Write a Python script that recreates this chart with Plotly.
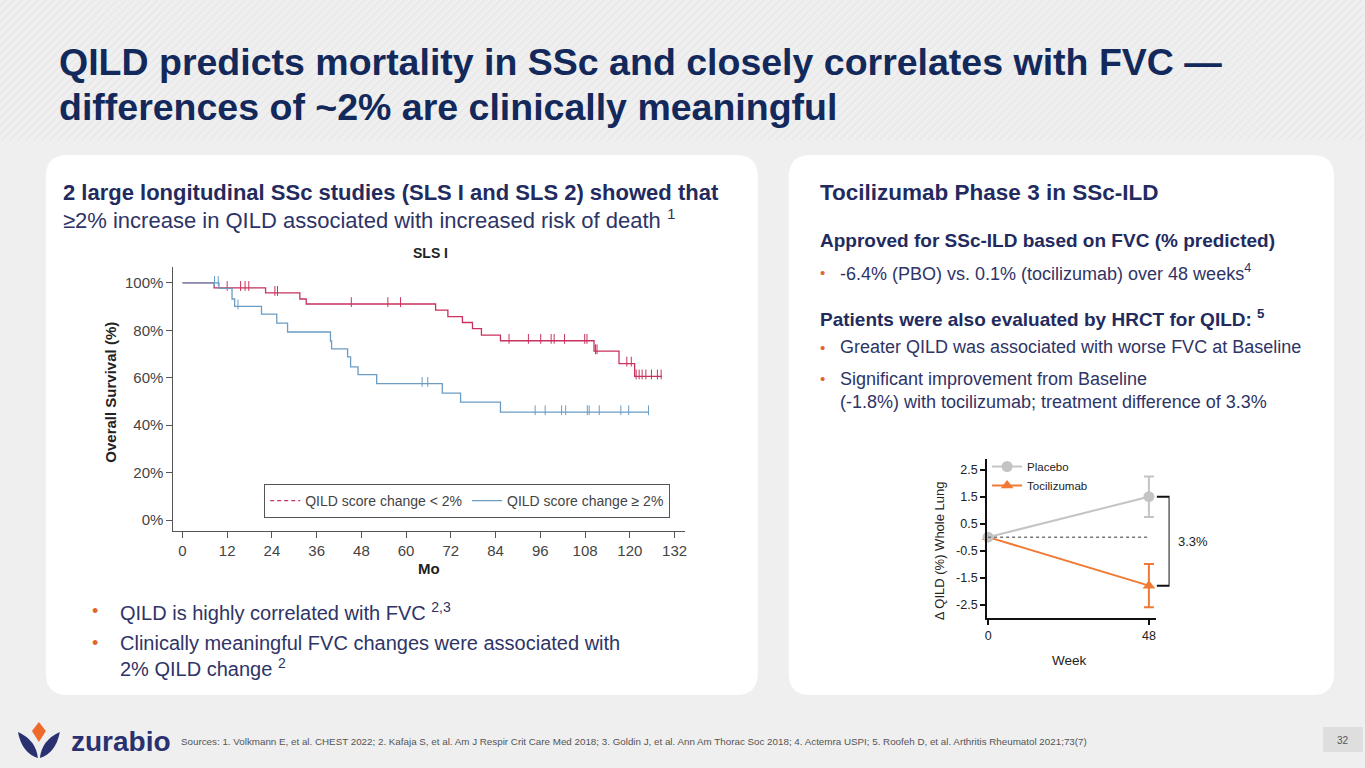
import plotly.graph_objects as go

W, H = 1365, 768
FONT = "Liberation Sans, Arial, sans-serif"
NAVY = "#14295b"
TEXT = "#2e3466"
ORANGE = "#e0662f"

# ---- SLS I Kaplan-Meier ----
red_name = "QILD score change < 2%"
red_times = [8.5, 22.3, 31.5, 33.2, 67.9, 71.2, 75.1, 77.8, 80.2, 85.3, 110.4, 117.1, 121.3]
red_surv = [97.9, 95.8, 93.2, 91.1, 88.5, 85.8, 83.3, 80.7, 78.0, 75.6, 71.2, 66.0, 60.6]
red_end = 128.6
red_cens = [12.0, 15.6, 16.8, 17.8, 24.8, 25.5, 45.3, 55.1, 58.5, 87.6, 92.8, 96.1,
            98.9, 99.7, 102.5, 107.9, 108.5, 110.8, 111.2, 119.2, 120.4, 121.7,
            122.5, 123.3, 124.3, 125.8, 127.4, 128.4]

blue_name = "QILD score change \u2265 2%"
blue_times = [9.8, 13.3, 14.0, 21.2, 25.3, 28.2, 39.7, 40.0, 44.3, 45.1, 47.1, 52.1, 69.7, 74.6, 85.3]
blue_surv = [97.7, 93.2, 90.1, 86.8, 83.0, 79.3, 75.5, 72.2, 68.8, 64.6, 61.3, 57.5, 53.5, 49.7, 45.5]
blue_end = 125.0
blue_cens = [8.6, 9.6, 14.9, 64.3, 65.8, 94.6, 97.3, 101.7, 102.8, 108.6, 109.1,
             111.8, 117.6, 119.7, 125.0]

month_ticks = list(range(0, 133, 12))
surv_ticks = [0, 20, 40, 60, 80, 100]
surv_labels = [f"{v}%" for v in surv_ticks]

# ---- Tocilizumab QILD ----
weeks = [0, 48]
placebo = [0, 1.5]
placebo_err = [0, 0.75]
toci = [0, -1.8]
toci_err = [0, 0.8]
qild_ticks = [-2.5, -1.5, -0.5, 0.5, 1.5, 2.5]
qild_labels = ["-2.5", "-1.5", "-0.5", "0.5", "1.5", "2.5"]
diff_label = "3.3%"

sources = ("Sources: 1. Volkmann E, et al. CHEST 2022; 2. Kafaja S, et al. Am J Respir Crit Care Med 2018; "
           "3. Goldin J, et al. Ann Am Thorac Soc 2018; 4. Actemra USPI; 5. Roofeh D, et al. "
           "Arthritis Rheumatol 2021;73(7)")


def X(px):
    return px / W


def Y(py):
    return 1 - py / H


def step_at(times, surv, t):
    s = 100
    for ti, si in zip(times, surv):
        if ti <= t:
            s = si
    return s


def rounded(x0, y0, x1, y1, r):
    return (f"M {X(x0 + r)},{Y(y0)} L {X(x1 - r)},{Y(y0)} Q {X(x1)},{Y(y0)} {X(x1)},{Y(y0 + r)} "
            f"L {X(x1)},{Y(y1 - r)} Q {X(x1)},{Y(y1)} {X(x1 - r)},{Y(y1)} "
            f"L {X(x0 + r)},{Y(y1)} Q {X(x0)},{Y(y1)} {X(x0)},{Y(y1 - r)} "
            f"L {X(x0)},{Y(y0 + r)} Q {X(x0)},{Y(y0)} {X(x0 + r)},{Y(y0)} Z")


fig = go.Figure()

# KM curves
for times, surv, end, cens, color in [(red_times, red_surv, red_end, red_cens, "#c8325c"),
                                      (blue_times, blue_surv, blue_end, blue_cens, "#6b9cc4")]:
    fig.add_trace(go.Scatter(x=[0] + times + [end], y=[100] + surv + [surv[-1]],
                             mode="lines", line=dict(color=color, width=1.3, shape="hv"),
                             showlegend=False, hoverinfo="skip", xaxis="x", yaxis="y"))
    fig.add_trace(go.Scatter(x=cens, y=[step_at(times, surv, t) + 0.8 for t in cens],
                             mode="markers", showlegend=False, hoverinfo="skip",
                             marker=dict(symbol="line-ns", size=7, line=dict(width=1, color=color)),
                             xaxis="x", yaxis="y"))

fig.add_trace(go.Scatter(x=[None], y=[None], mode="lines", name=red_name,
                         line=dict(color="#c8325c", width=1.3, dash="4px,3px"),
                         xaxis="x", yaxis="y", legend="legend"))
fig.add_trace(go.Scatter(x=[None], y=[None], mode="lines", name=blue_name,
                         line=dict(color="#6b9cc4", width=1.3),
                         xaxis="x", yaxis="y", legend="legend"))

# QILD chart
fig.add_trace(go.Scatter(x=weeks, y=toci, name="Tocilizumab", mode="lines+markers",
                         line=dict(color="#f07a35", width=2),
                         marker=dict(symbol="triangle-up", size=11, color="#f07a35"),
                         error_y=dict(type="data", array=toci_err, color="#f07a35", thickness=2, width=5),
                         cliponaxis=False, xaxis="x2", yaxis="y2", legend="legend2", legendrank=2))
fig.add_trace(go.Scatter(x=weeks, y=placebo, name="Placebo", mode="lines+markers",
                         line=dict(color="#c4c4c4", width=2),
                         marker=dict(symbol="circle", size=11, color="#c4c4c4"),
                         error_y=dict(type="data", array=placebo_err, color="#c4c4c4", thickness=2, width=5),
                         cliponaxis=False, xaxis="x2", yaxis="y2", legend="legend2", legendrank=1))
# difference bracket
fig.add_trace(go.Scatter(x=[0, 1, 1, 0], y=[placebo[-1], placebo[-1], toci[-1], toci[-1]],
                         mode="lines", line=dict(color="#111111", width=2), showlegend=False,
                         hoverinfo="skip", xaxis="x3", yaxis="y2", cliponaxis=False))

shapes = []
# diagonal stripes in header band
for k in range(-20, 190):
    x0 = k * 8
    shapes.append(dict(type="line", xref="paper", yref="paper", x0=X(x0), y0=Y(140),
                       x1=X(x0 + 140), y1=Y(0), line=dict(color="#e2e2e2", width=1), layer="below"))
# white panels
shapes.append(dict(type="path", xref="paper", yref="paper", path=rounded(44, 155, 758, 695, 22),
                   fillcolor="white", line=dict(width=0), layer="below"))
shapes.append(dict(type="path", xref="paper", yref="paper", path=rounded(789, 155, 1336, 695, 22),
                   fillcolor="white", line=dict(width=0), layer="below"))
# zero reference line
shapes.append(dict(type="line", xref="x2", yref="y2", x0=weeks[0], x1=weeks[-1], y0=0, y1=0,
                   line=dict(color="#777777", width=1.5, dash="dot")))
# logo
shapes.append(dict(type="path", xref="paper", yref="paper", fillcolor="#ee6a2c", line=dict(width=0),
                   path=f"M {X(37)},{Y(722)} L {X(44)},{Y(731)} L {X(37)},{Y(742)} L {X(30)},{Y(731)} Z"))
shapes.append(dict(type="path", xref="paper", yref="paper", fillcolor="#2a3171", line=dict(width=0),
                   path=f"M {X(16)},{Y(732)} Q {X(20)},{Y(753)} {X(36)},{Y(758)} Q {X(34)},{Y(740)} {X(16)},{Y(732)} Z"))
shapes.append(dict(type="path", xref="paper", yref="paper", fillcolor="#2a3171", line=dict(width=0),
                   path=f"M {X(58)},{Y(732)} Q {X(54)},{Y(753)} {X(38)},{Y(758)} Q {X(40)},{Y(740)} {X(58)},{Y(732)} Z"))
# page number box
shapes.append(dict(type="rect", xref="paper", yref="paper", x0=X(1325), x1=X(1365), y0=Y(752), y1=Y(727),
                   fillcolor="#dedede", line=dict(width=0)))


def txt(x, y, text, size, color=TEXT, bold=False, anchor="left", **kw):
    if bold:
        text = f"<b>{text}</b>"
    return dict(xref="paper", yref="paper", x=X(x), y=Y(y), text=text, showarrow=False,
                xanchor=anchor, yanchor="middle", font=dict(family=FONT, size=size, color=color), **kw)


annotations = [
    txt(55, 62, "QILD predicts mortality in SSc and closely correlates with FVC \u2014", 37.5, NAVY, True),
    txt(55, 107, "differences of ~2% are clinically meaningful", 37.5, NAVY, True),
    txt(59, 193, "2 large longitudinal SSc studies (SLS I and SLS 2) showed that", 22, "#232b5e", True),
    txt(59, 219, "\u22652% increase in QILD associated with increased risk of death <sup>1</sup>", 22, TEXT),
    txt(430, 253, "SLS I", 14, "#222222", True, "center"),
    txt(108, 392, "Overall Survival (%)", 15, "#222222", True, "center", textangle=-90),
    txt(428, 568, "Mo", 15, "#222222", True, "center"),
    txt(88, 611, "\u2022", 18, ORANGE),
    txt(116, 611, "QILD is highly correlated with FVC <sup>2,3</sup>", 20),
    txt(88, 643, "\u2022", 18, ORANGE),
    txt(116, 643, "Clinically meaningful FVC changes were associated with", 20),
    txt(116, 667, "2% QILD change <sup>2</sup>", 20),
    txt(818, 193, "Tocilizumab Phase 3 in SSc-ILD", 22.5, "#232b5e", True),
    txt(818, 240, "Approved for SSc-ILD based on FVC (% predicted)", 19, "#232b5e", True),
    txt(818, 272, "\u2022", 15, ORANGE),
    txt(838, 272, "-6.4% (PBO) vs. 0.1% (tocilizumab) over 48 weeks<sup>4</sup>", 18),
    txt(818, 318, "Patients were also evaluated by HRCT for QILD: <sup>5</sup>", 19, "#232b5e", True),
    txt(818, 347, "\u2022", 15, ORANGE),
    txt(838, 347, "Greater QILD was associated with worse FVC at Baseline", 18),
    txt(818, 379, "\u2022", 15, ORANGE),
    txt(838, 379, "Significant improvement from Baseline", 18),
    txt(838, 402, "(-1.8%) with tocilizumab; treatment difference of 3.3%", 18),
    txt(940, 551, "\u0394 QILD (%) Whole Lung", 13, "#222222", False, "center", textangle=-90),
    txt(1071, 660, "Week", 13.5, "#222222", False, "center"),
    txt(67, 741, "zurabio", 28, "#2a3171", True),
    txt(178, 741, sources, 9.8, "#555555"),
    txt(1345, 740, "32", 10, "#555555", False, "center"),
    dict(xref="x3", yref="y2", x=1, y=(placebo[-1] + toci[-1]) / 2, text=diff_label, showarrow=False,
         xanchor="left", yanchor="middle", xshift=6, font=dict(family=FONT, size=13, color="#222222")),
]

axis_km = dict(showline=True, linecolor="#555555", linewidth=1.2, ticks="outside", ticklen=6,
               tickcolor="#555555", showgrid=False, zeroline=False,
               tickfont=dict(family=FONT, size=15, color="#444444"))
axis_q = dict(showline=True, linecolor="#111111", linewidth=2, ticks="outside", ticklen=5,
              tickwidth=2, tickcolor="#111111", showgrid=False, zeroline=False,
              tickfont=dict(family=FONT, size=12.5, color="#222222"))

fig.update_layout(
    width=W, height=H, margin=dict(l=0, r=0, t=0, b=0),
    paper_bgcolor="#efefef", plot_bgcolor="rgba(0,0,0,0)",
    font=dict(family=FONT),
    xaxis=dict(domain=[X(172), X(685)], range=[-2.4, 134.8], tickvals=month_ticks, anchor="y", **axis_km),
    yaxis=dict(domain=[Y(531), Y(267)], range=[-4.6, 106.7], tickvals=surv_ticks, ticktext=surv_labels,
               anchor="x", **axis_km),
    xaxis2=dict(domain=[X(988), X(1157)], range=[-0.3, 50], tickvals=weeks, anchor="y2", **axis_q),
    yaxis2=dict(domain=[Y(618), Y(459)], range=[-3.0, 2.9], tickvals=qild_ticks, ticktext=qild_labels,
                anchor="x2", **axis_q),
    xaxis3=dict(domain=[X(1158), X(1171)], range=[0, 1], anchor="y2", visible=False),
    legend=dict(orientation="h", x=X(263), y=Y(484), xanchor="left", yanchor="top",
                bgcolor="white", bordercolor="#555555", borderwidth=1,
                font=dict(family=FONT, size=14, color="#444444")),
    legend2=dict(x=X(988), y=Y(452), xanchor="left", yanchor="top", bgcolor="rgba(0,0,0,0)",
                 tracegroupgap=0, itemwidth=30, font=dict(family=FONT, size=11.5, color="#222222")),
    shapes=shapes, annotations=annotations,
)

fig.write_html("out.html", config={"displayModeBar": False},
               post_script="document.body.style.margin='0';document.body.style.overflow='hidden';")
